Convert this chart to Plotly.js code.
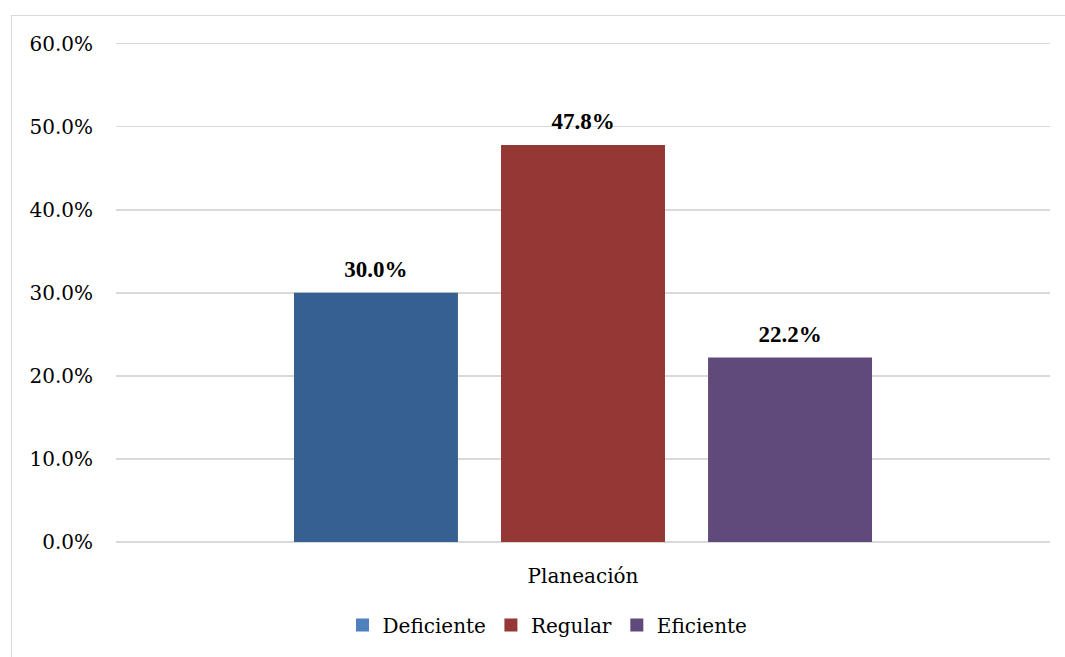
<!DOCTYPE html>
<html>
<head>
<meta charset="utf-8">
<script src="https://cdn.plot.ly/plotly-3.0.1.min.js"></script>
<style>
  html, body { margin: 0; padding: 0; background: #ffffff; }
  #frame {
    position: absolute; left: 11px; top: 15px;
    width: 1060px; height: 650px;
    border: 1.5px solid #d9d9d9; box-sizing: border-box;
  }
  #chart { position: absolute; left: 0; top: 0; width: 1065px; height: 657px; }
</style>
</head>
<body>
<div id="frame"></div>
<div id="chart"></div>
<script>
// Planeación results by level
const category = ['Planeación'];
const seriesNames = ['Deficiente', 'Regular', 'Eficiente'];
const seriesValues = [30.0, 47.8, 22.2];
const barColors = ['#376092', '#953735', '#604A7B'];
const legendColors = ['#4F81BD', '#953735', '#604A7B'];
const yTicks = [0, 10, 20, 30, 40, 50, 60];

const serif = 'DejaVu Serif, Liberation Serif, serif';
const boldSerif = 'Liberation Serif, DejaVu Serif, serif';
const GAP = 0.335;

const traces = [];
// bars
seriesNames.forEach((name, i) => {
  traces.push({
    type: 'bar',
    name: name,
    x: category,
    y: [seriesValues[i]],
    offsetgroup: String(i),
    marker: { color: barColors[i] },
    showlegend: false,
    hoverinfo: 'skip'
  });
});
// value labels, grouped the same way as the bars
seriesNames.forEach((name, i) => {
  traces.push({
    type: 'scatter',
    mode: 'markers+text',
    name: name,
    x: category,
    y: [seriesValues[i]],
    offsetgroup: String(i),
    text: [seriesValues[i].toFixed(1) + '%'],
    textposition: 'top center',
    textfont: { family: boldSerif, size: 23, color: '#000000', weight: 'bold' },
    marker: { size: 14, color: 'rgba(0,0,0,0)' },
    cliponaxis: false,
    showlegend: false,
    hoverinfo: 'skip'
  });
});
// legend entries with their own swatch colours
seriesNames.forEach((name, i) => {
  traces.push({
    type: 'scatter',
    mode: 'markers',
    name: name,
    x: [null],
    y: [null],
    offsetgroup: String(i),
    marker: { symbol: 'square', size: 13, color: legendColors[i] },
    showlegend: true,
    hoverinfo: 'skip'
  });
});

const layout = {
  width: 1065,
  height: 657,
  margin: { l: 116, r: 15, t: 42, b: 112 },
  paper_bgcolor: 'rgba(0,0,0,0)',
  plot_bgcolor: 'rgba(0,0,0,0)',
  barmode: 'group',
  bargap: GAP,
  bargroupgap: 0.208,
  scattermode: 'group',
  scattergap: GAP,
  font: { family: serif, size: 20, color: '#000000' },
  xaxis: {
    type: 'category',
    range: [-0.5, 0.5],
    showgrid: false,
    showline: false,
    zeroline: false,
    ticks: 'outside',
    ticklen: 16,
    tickcolor: 'rgba(0,0,0,0)',
    tickfont: { family: serif, size: 20, color: '#000000' }
  },
  yaxis: {
    range: [0, 60.2],
    tickvals: yTicks,
    ticktext: yTicks.map(v => v.toFixed(1) + '%'),
    showgrid: true,
    gridcolor: '#d9d9d9',
    gridwidth: 1.5,
    zeroline: true,
    zerolinecolor: '#d9d9d9',
    zerolinewidth: 1.5,
    showline: false,
    ticks: '',
    ticklabelstandoff: 22,
    tickfont: { family: serif, size: 20, color: '#000000' }
  },
  showlegend: true,
  legend: {
    orientation: 'h',
    x: 0.462,
    xanchor: 'center',
    y: -0.166,
    yanchor: 'middle',
    font: { family: serif, size: 20, color: '#000000' },
    bgcolor: 'rgba(0,0,0,0)'
  }
};

Plotly.newPlot('chart', traces, layout, { displayModeBar: false, staticPlot: true });
</script>
</body>
</html>
